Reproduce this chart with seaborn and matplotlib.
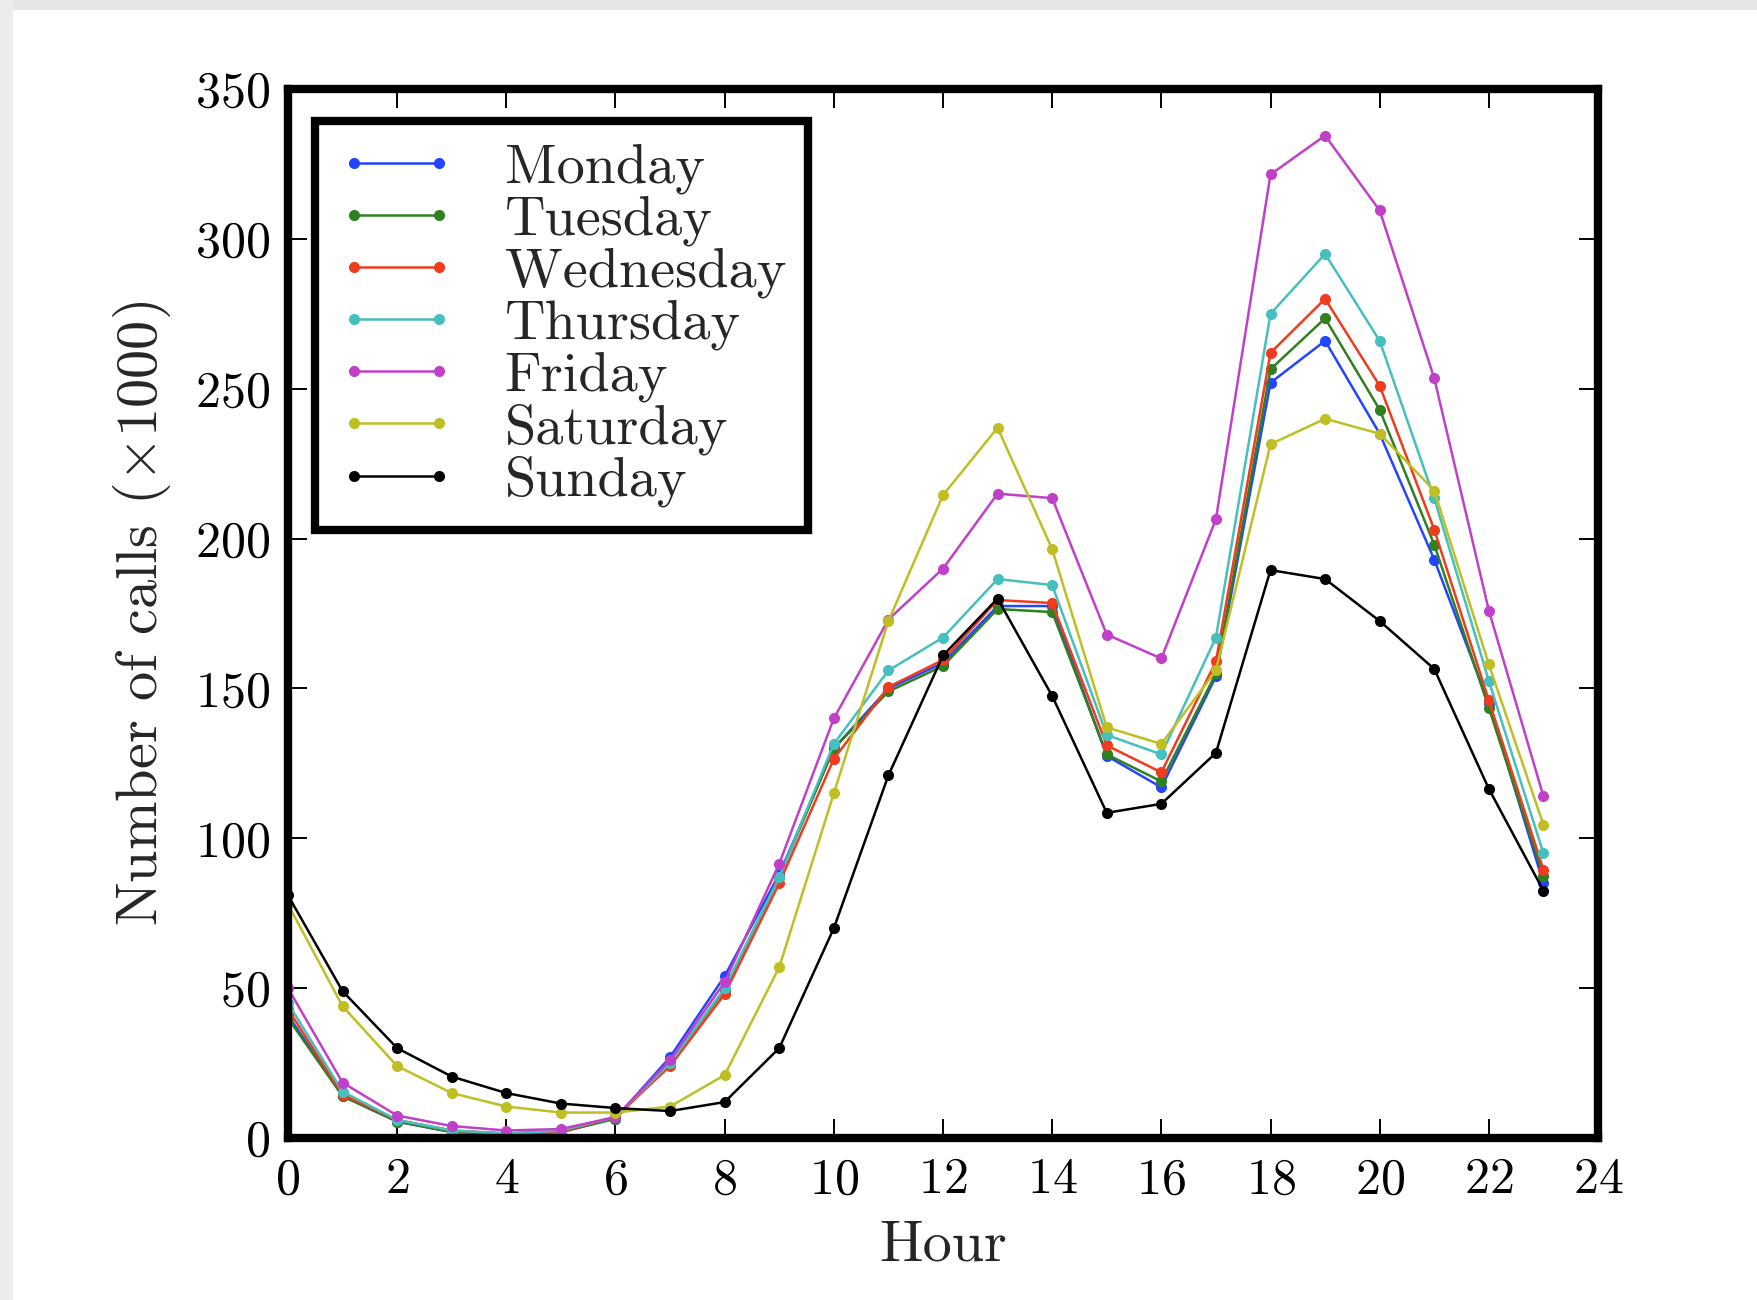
import numpy as np
import pandas as pd
import matplotlib
matplotlib.use("Agg")
import matplotlib.pyplot as plt
import seaborn as sns
from matplotlib.patches import Rectangle

hours = list(range(24))
days = ["Monday", "Tuesday", "Wednesday", "Thursday", "Friday", "Saturday", "Sunday"]
colors = ["#2445ff", "#2f8020", "#f03c1e", "#45bfbf", "#c040c8", "#bfbf25", "#000000"]

monday = [41, 14, 5.5, 2, 1.5, 2, 6.5, 27, 54, 88, 130, 150, 158.5, 177.5, 177.5, 127.5, 117, 154, 252, 266, 235, 193, 145, 85]
tuesday = [40, 14, 5.5, 2, 1.5, 2, 6.5, 25, 49.5, 87, 130, 149, 157.5, 176.5, 175.5, 128, 119, 155, 256.5, 273.5, 243, 198, 143.5, 87.5]
wednesday = [43, 14.5, 6, 2.5, 1.5, 2, 7, 24, 48, 85, 126.5, 150.5, 159.5, 179.5, 178.5, 131, 122, 159, 262, 280, 251, 203, 146, 89.5]
thursday = [45, 15.5, 6, 2.5, 1.5, 2.5, 7, 25, 50, 87, 131.5, 156, 167, 186.5, 184.5, 134.5, 128, 167, 275, 295, 266, 213.5, 152.5, 95]
friday = [50, 18.5, 7.5, 4, 2.5, 3, 7, 26, 52, 91.5, 140, 173, 190, 215, 213.5, 168, 160, 206.5, 321.5, 334.5, 309.5, 253.5, 176, 114]
saturday = [78, 44, 24, 15, 10.5, 8.5, 8.5, 10.5, 21, 57, 115, 172.5, 214.5, 237, 196.5, 137, 131.5, 156, 231.5, 240, 235, 216, 158, 104.5]
sunday = [81, 49, 30, 20.5, 15, 11.5, 10, 9, 12, 30, 70, 121, 161, 180, 147.5, 108.5, 111.5, 128.5, 189.5, 186.5, 172.5, 156.5, 116.5, 82.5]

series = [monday, tuesday, wednesday, thursday, friday, saturday, sunday]

x_ticks = list(range(0, 25, 2))
y_ticks = list(range(0, 351, 50))

sns.set_style("ticks")
plt.rcParams["font.family"] = ["cmr10", "DejaVu Serif"]
plt.rcParams["mathtext.fontset"] = "cm"
plt.rcParams["axes.formatter.use_mathtext"] = True

fig = plt.figure(figsize=(17.58, 13.0), dpi=100)
fig.patch.set_facecolor("white")
# screenshot card edges
fig.patches.append(Rectangle((0, 1 - 10 / 1300), 1, 10 / 1300, transform=fig.transFigure,
                             facecolor="#e6e6e6", edgecolor="none", zorder=0))
fig.patches.append(Rectangle((0, 0), 13 / 1758, 1, transform=fig.transFigure,
                             facecolor="#ececec", edgecolor="none", zorder=0))

ax = fig.add_axes([0.1638, 0.1246, 0.909 - 0.1638, 0.9315 - 0.1246])

for day, vals, col in zip(days, series, colors):
    df = pd.DataFrame({"Hour": hours, "Calls": vals})
    sns.lineplot(data=df, x="Hour", y="Calls", ax=ax, color=col, label=day,
                 marker="o", markersize=8, markeredgewidth=0, linewidth=1.8)

ax.set_xlim(0, 24)
ax.set_ylim(0, 350)
ax.set_xticks(x_ticks)
ax.set_yticks(y_ticks)
ax.tick_params(direction="in", length=14, width=1.4, top=True, right=True,
               labelsize=36, colors="black")
ax.tick_params(axis="x", pad=14)
ax.tick_params(axis="y", pad=13)
for s in ax.spines.values():
    s.set_visible(True)
    s.set_linewidth(6)
    s.set_color("black")

ax.set_xlabel("Hour", fontsize=42, labelpad=12)
ax.set_ylabel(r"Number of calls $(\times1000)$", fontsize=42, labelpad=16)

leg = ax.legend(loc="upper left", bbox_to_anchor=(0.0206, 0.970), borderaxespad=0,
                fontsize=40.5, numpoints=2, handlelength=2.11, handletextpad=0.86,
                labelspacing=0.02, borderpad=0.4, frameon=True, fancybox=False)
frame = leg.get_frame()
frame.set_edgecolor("black")
frame.set_linewidth(6)
frame.set_facecolor("white")
frame.set_alpha(1)

fig.savefig("out.png", dpi=100)
